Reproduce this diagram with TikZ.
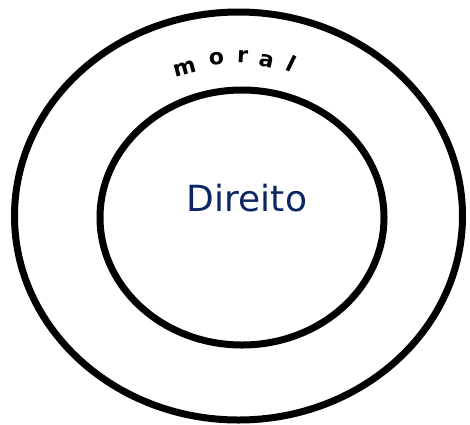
\documentclass[tikz,border=0pt]{standalone}
\usepackage{fontspec}
\setmainfont{DejaVu Sans}
\usetikzlibrary{shapes.geometric}
\definecolor{navy}{RGB}{12,38,100}
\tikzset{
  ring/.style={ellipse, draw=black, line width=7pt, inner sep=0pt},
  lett/.style={font=\fontsize{22}{22}\selectfont\bfseries, inner sep=0pt}
}
\begin{document}
\begin{tikzpicture}[x=1pt,y=-1pt]
\useasboundingbox (0,0) rectangle (470,424);
\node[ring, minimum width=448pt, minimum height=408pt] (outer) at (238.5,216) {};
\node[ring, minimum width=284pt, minimum height=255pt] (inner) at (242,217.5) {};
\node[text=navy, font=\fontsize{36}{36}\selectfont, anchor=base] (dir) at (247,211) {Direito};
\node[lett, rotate=15] (m1) at (185,69) {m};
\node[lett, rotate=6] (m2) at (216.5,58.5) {o};
\node[lett, rotate=-3] (m3) at (242.5,56.5) {r};
\node[lett, rotate=-12] (m4) at (266.5,61) {a};
\node[lett, rotate=-26] (m5) at (292,63.5) {l};
\end{tikzpicture}
\end{document}
